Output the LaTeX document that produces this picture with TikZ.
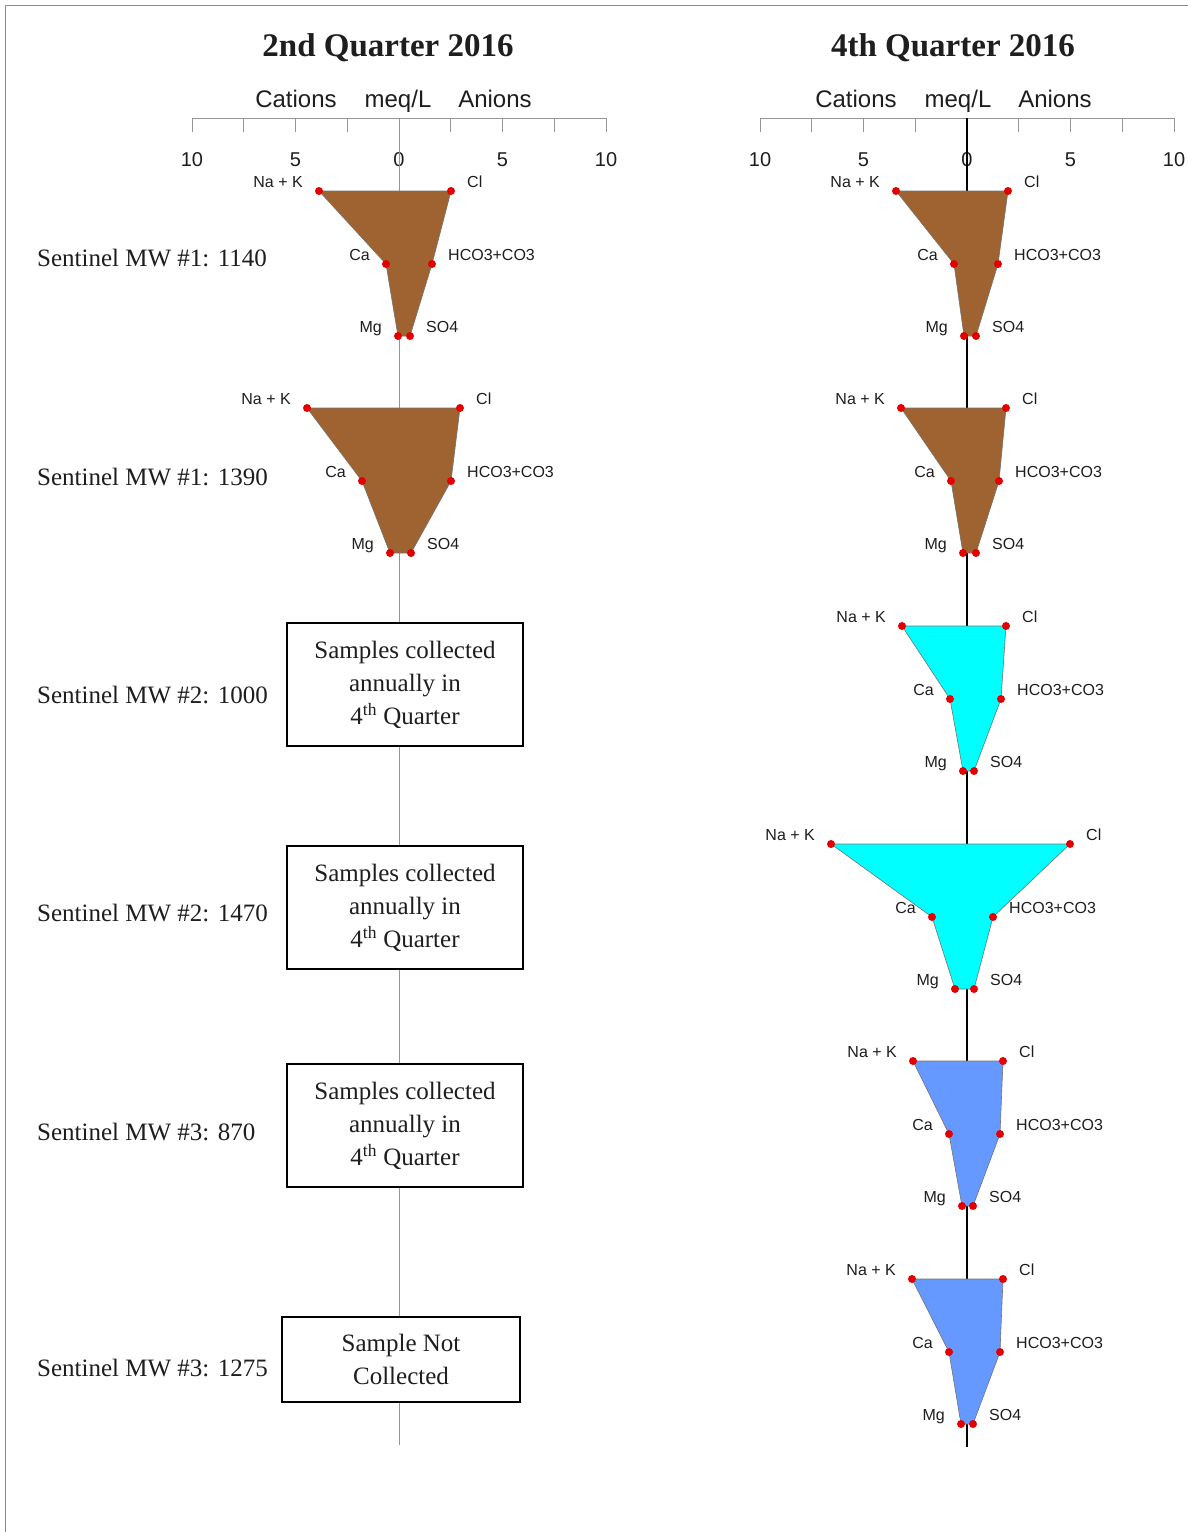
\documentclass[tikz,border=0pt]{standalone}
\usepackage{fontspec}
\setmainfont{Liberation Serif}
\setsansfont{Liberation Sans}
\definecolor{brownfill}{RGB}{158,99,48}
\definecolor{cyanfill}{RGB}{0,255,255}
\definecolor{bluefill}{RGB}{102,153,255}
\definecolor{dotred}{RGB}{228,0,0}
\definecolor{framegray}{RGB}{140,140,140}
\definecolor{axisgray}{RGB}{150,150,150}
\definecolor{txt}{RGB}{30,30,30}

% #1 name, #2 ytop, #3 na, #4 cl, #5 ca, #6 hco3, #7 mg, #8 so4, #9 colour
\newcommand\stiffdiag[9]{%
  \coordinate (#1-na) at (#3,#2);
  \coordinate (#1-cl) at (#4,#2);
  \coordinate (#1-ca) at (#5,#2+73);
  \coordinate (#1-hc) at (#6,#2+73);
  \coordinate (#1-mg) at (#7,#2+145);
  \coordinate (#1-so) at (#8,#2+145);
  \filldraw[fill=#9, draw=black!55, line width=0.6pt]
    (#1-na) -- (#1-ca) -- (#1-mg) -- (#1-so) -- (#1-hc) -- (#1-cl) -- cycle;
  \foreach \p in {na,cl,ca,hc,mg,so} \fill[dotred] (#1-\p) circle (4);
  \node[ionlab, anchor=base east] (#1-lna) at ([xshift=-16pt,yshift=4pt]#1-na) {Na + K};
  \node[ionlab, anchor=base west] (#1-lcl) at ([xshift=16pt,yshift=4pt]#1-cl) {Cl};
  \node[ionlab, anchor=base east] (#1-lca) at ([xshift=-16pt,yshift=4pt]#1-ca) {Ca};
  \node[ionlab, anchor=base west] (#1-lhc) at ([xshift=16pt,yshift=4pt]#1-hc) {HCO3+CO3};
  \node[ionlab, anchor=base east] (#1-lmg) at ([xshift=-16pt,yshift=4pt]#1-mg) {Mg};
  \node[ionlab, anchor=base west] (#1-lso) at ([xshift=16pt,yshift=4pt]#1-so) {SO4};
}

% #1 name, #2 centre x
\newcommand\axispanel[2]{%
  \draw[axisgray, line width=1pt] (#2-207,118) -- (#2+207,118);
  \foreach \k in {-4,...,4} \draw[axisgray, line width=1pt] ({#2+\k*51.75},118) -- ({#2+\k*51.75},132);
  \node[ticklab] (#1-ta) at (#2-207,166) {10};
  \node[ticklab] (#1-tb) at (#2-103.5,166) {5};
  \node[ticklab] (#1-tc) at (#2,166) {0};
  \node[ticklab] (#1-td) at (#2+103.5,166) {5};
  \node[ticklab] (#1-te) at (#2+207,166) {10};
}

\begin{document}
\begin{tikzpicture}[x=1pt, y=-1pt,
  ionlab/.style={font=\sffamily\fontsize{16}{18}\selectfont, text=txt, inner sep=0pt},
  ticklab/.style={font=\sffamily\fontsize{20}{24}\selectfont, text=txt, inner sep=0pt, anchor=base},
  axtitle/.style={font=\sffamily\fontsize{24}{28}\selectfont, text=txt, inner sep=0pt, anchor=base},
  ptitle/.style={font=\bfseries\fontsize{33}{38}\selectfont, text=txt, inner sep=0pt, anchor=base},
  rowlab/.style={font=\fontsize{25}{30}\selectfont, text=txt, anchor=base west, inner sep=0pt},
  notebox/.style={draw=black, line width=2pt, fill=white, align=center, text=txt,
    font=\fontsize{25}{33}\selectfont, minimum width=236pt, inner sep=0pt}
]
\useasboundingbox (0,0) rectangle (1188,1532);
\fill[white] (0,0) rectangle (1188,1532);
\draw[framegray, line width=1pt] (5,1532) -- (5,5) -- (1188,5);

% titles
\node[ptitle] (t2) at (388,56) {2nd Quarter 2016};
\node[ptitle] (t4) at (953,56) {4th Quarter 2016};

% axes
\axispanel{L}{399}
\axispanel{R}{967}
\node[axtitle] (Lcat) at (296,107) {Cations};
\node[axtitle] (Lmeq) at (398,107) {meq/L};
\node[axtitle] (Lani) at (495,107) {Anions};
\node[axtitle] (Rcat) at (856,107) {Cations};
\node[axtitle] (Rmeq) at (958,107) {meq/L};
\node[axtitle] (Rani) at (1055,107) {Anions};

% vertical lines
\coordinate (Ltop) at (399,118);
\coordinate (Lbot) at (399,1445);
\coordinate (Rtop) at (967,118);
\coordinate (Rbot) at (967,1447);
\draw[axisgray, line width=1pt] (Ltop) -- (Lbot);
\draw[black, line width=1.6pt] (Rtop) -- (Rbot);

% row labels
\node[rowlab] (r1) at (37,266) {Sentinel MW \#1: 1140};
\node[rowlab] (r2) at (37,485) {Sentinel MW \#1: 1390};
\node[rowlab] (r3) at (37,703) {Sentinel MW \#2: 1000};
\node[rowlab] (r4) at (37,921) {Sentinel MW \#2: 1470};
\node[rowlab] (r5) at (37,1140) {Sentinel MW \#3: 870};
\node[rowlab] (r6) at (37,1376) {Sentinel MW \#3: 1275};

% left stiff diagrams
\stiffdiag{La}{191}{319}{451}{386}{432}{398}{410}{brownfill}
\stiffdiag{Lb}{408}{307}{460}{362}{451}{390}{411}{brownfill}

% right stiff diagrams
\stiffdiag{Ra}{191}{896}{1008}{954}{998}{964}{976}{brownfill}
\stiffdiag{Rb}{408}{901}{1006}{951}{999}{963}{976}{brownfill}
\stiffdiag{Rc}{626}{902}{1006}{950}{1001}{963}{974}{cyanfill}
\stiffdiag{Rd}{844}{831}{1070}{932}{993}{955}{974}{cyanfill}
\stiffdiag{Re}{1061}{913}{1003}{949}{1000}{962}{973}{bluefill}
\stiffdiag{Rf}{1279}{912}{1003}{949}{1000}{961}{973}{bluefill}

% boxes
\node[notebox, minimum height=123pt] (b1) at (405,684.5) {Samples collected\\annually in\\4\textsuperscript{th} Quarter};
\node[notebox, minimum height=123pt] (b2) at (405,907.5) {Samples collected\\annually in\\4\textsuperscript{th} Quarter};
\node[notebox, minimum height=123pt] (b3) at (405,1125.5) {Samples collected\\annually in\\4\textsuperscript{th} Quarter};
\node[notebox, minimum width=238pt, minimum height=85pt] (b4) at (401,1359.5) {Sample Not\\Collected};
\end{tikzpicture}
\end{document}
